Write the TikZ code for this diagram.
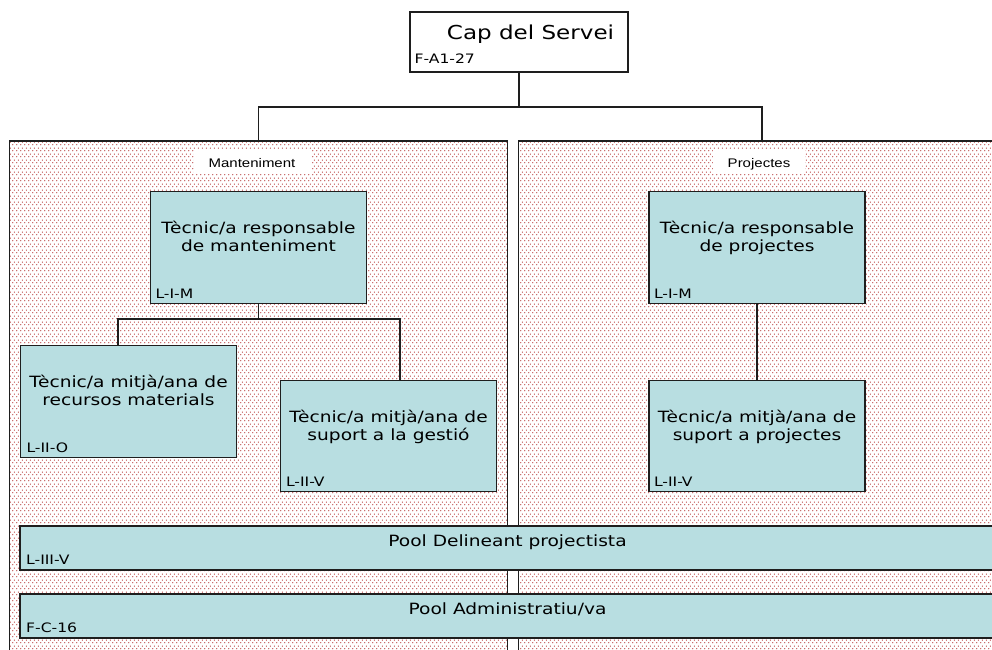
\documentclass[tikz,border=0pt]{standalone}
\usepackage{fontspec}
\setmainfont{DejaVu Sans}[FakeStretch=1.2]
\newfontfamily\lblfont{Liberation Sans}[FakeStretch=1.2]
\usetikzlibrary{patterns,calc}
\definecolor{boxfill}{RGB}{184,222,225}
\definecolor{dotred}{RGB}{175,35,35}
\definecolor{edge}{RGB}{30,30,30}
\pgfdeclarepatterninherentlycolored{reddots}{\pgfpointorigin}{\pgfpoint{4pt}{6pt}}{\pgfpoint{4pt}{6pt}}{%
  \pgfsetfillcolor{dotred}%
  \pgfpathcircle{\pgfpoint{1pt}{1.5pt}}{0.7pt}%
  \pgfpathcircle{\pgfpoint{3pt}{4.5pt}}{0.7pt}%
  \pgfusepath{fill}%
}
\tikzset{
  panel/.style={draw=edge, line width=1.3pt, rectangle, inner sep=0, pattern=reddots},
  rolebox/.style={draw=edge, line width=1.4pt, fill=boxfill, rectangle, inner sep=0,
    minimum width=216pt, minimum height=111.5pt},
  poolbox/.style={draw=edge, line width=1.4pt, fill=boxfill, rectangle, inner sep=0,
    minimum width=1080pt, minimum height=44pt},
  capbox/.style={draw=edge, line width=1.3pt, fill=white, rectangle, inner sep=0,
    minimum width=218pt, minimum height=60pt},
  roletext/.style={inner sep=0, align=center, font=\fontsize{15.5}{18}\selectfont},
  pooltext/.style={inner sep=0, font=\fontsize{15.5}{18}\selectfont},
  codelbl/.style={inner sep=0, font=\fontsize{13}{15}\selectfont},
  panellbl/.style={fill=white, inner sep=0, font=\lblfont\fontsize{12.5}{14}\selectfont},
  conn/.style={draw=edge, line width=1.3pt}
}
\begin{document}
\begin{tikzpicture}[x=1pt,y=-1pt]
\useasboundingbox (0,0) rectangle (992,649);
\clip (0,0) rectangle (992,649);
\fill[white] (0,0) rectangle (992,649);

% panels
\node[panel, minimum width=498pt, minimum height=579pt] (pm) at (258.3,430.5) {};
\node[panel, minimum width=581.7pt, minimum height=579pt] (pp) at (809.15,430.5) {};
\coordinate (ppTop) at (762,141);

% panel labels
\node[panellbl, minimum width=118pt, minimum height=23pt] (pmL) at (252.5,161.5) {};
\node[panellbl, anchor=base, fill=none] (pmLt) at (252,167) {Manteniment};
\node[panellbl, minimum width=92pt, minimum height=25pt] (ppL) at (759,161.5) {};
\node[panellbl, anchor=base, fill=none] (ppLt) at (759,167) {Projectes};

% top box
\node[capbox] (cap) at (519,42) {};
\node[inner sep=0, anchor=base, font=\fontsize{19.2}{22}\selectfont] (capT) at (530.5,39.5) {Cap del Servei};
\node[codelbl, anchor=base west] (capC) at ([xshift=5pt,yshift=9.5pt]cap.south west) {F-A1-27};

\coordinate (hub) at (519,107);
\draw[conn] (cap.south) -- (hub);
\draw[conn] (pm.north) |- (hub) -| (ppTop);

% role boxes
\node[rolebox] (rm) at (258.5,247.5) {};
\node[rolebox] (rr) at (128.5,401.5) {};
\node[rolebox] (rg) at (388.5,436) {};
\node[rolebox] (pr) at (757,247.5) {};
\node[rolebox] (ps) at (757,436) {};

\node[roletext, anchor=north] (rmT) at ([yshift=-30.2pt]rm.north) {Tècnic/a responsable\\de manteniment};
\node[roletext, anchor=north] (rrT) at ([yshift=-30.2pt]rr.north) {Tècnic/a mitjà/ana de\\recursos materials};
\node[roletext, anchor=north] (rgT) at ([yshift=-30.2pt]rg.north) {Tècnic/a mitjà/ana de\\suport a la gestió};
\node[roletext, anchor=north] (prT) at ([yshift=-30.2pt]pr.north) {Tècnic/a responsable\\de projectes};
\node[roletext, anchor=north] (psT) at ([yshift=-30.2pt]ps.north) {Tècnic/a mitjà/ana de\\suport a projectes};

\node[codelbl, anchor=base west] (rmC) at ([xshift=5.5pt,yshift=5.5pt]rm.south west) {L-I-M};
\node[codelbl, anchor=base west] (rrC) at ([xshift=6.5pt,yshift=5.5pt]rr.south west) {L-II-O};
\node[codelbl, anchor=base west] (rgC) at ([xshift=6pt,yshift=6pt]rg.south west) {L-II-V};
\node[codelbl, anchor=base west] (prC) at ([xshift=5.5pt,yshift=5.5pt]pr.south west) {L-I-M};
\node[codelbl, anchor=base west] (psC) at ([xshift=5.5pt,yshift=6pt]ps.south west) {L-II-V};

% connectors in panels
\coordinate (split) at (258.5,319);
\draw[conn] (rm.south) -- (split);
\draw[conn] ([xshift=-10.5pt]rr.north) |- (split) -| ([xshift=11.5pt]rg.north);
\draw[conn] (pr.south) -- (ps.north);

% pools
\node[poolbox] (pd) at (560,548) {};
\node[poolbox] (pa) at (560,616) {};
\node[pooltext, anchor=base] (pdT) at (507.5,546) {Pool Delineant projectista};
\node[pooltext, anchor=base] (paT) at (507.5,614) {Pool Administratiu/va};
\node[codelbl, anchor=base west] (pdC) at ([xshift=6.7pt,yshift=6.7pt]pd.south west) {L-III-V};
\node[codelbl, anchor=base west] (paC) at ([xshift=6.7pt,yshift=6.3pt]pa.south west) {F-C-16};
\end{tikzpicture}
\end{document}
